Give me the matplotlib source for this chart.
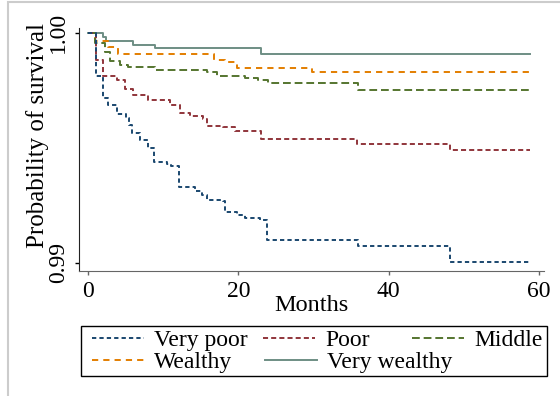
import matplotlib
matplotlib.use("Agg")
import matplotlib.pyplot as plt
from matplotlib.lines import Line2D
from matplotlib.patches import Rectangle

plt.rcParams['font.family'] = ['Liberation Serif', 'DejaVu Serif']

# Kaplan-Meier style step curves (months, survival probability)
vpoor_t = [0, 1.1, 2.0, 2.7, 3.8, 5.1, 5.5, 5.9, 6.9, 8.0, 8.8, 10.5, 11.1, 12.1,
           14.2, 15.1, 15.8, 17.9, 18.2, 19.8, 20.9, 22.9, 23.8, 35.9, 48.1, 58.8]
vpoor_s = [1.0, 0.99813, 0.99716, 0.99687, 0.99647, 0.99629, 0.99600, 0.99564,
           0.99535, 0.99499, 0.99440, 0.99430, 0.99419, 0.99330, 0.99313, 0.99296,
           0.99274, 0.99267, 0.99219, 0.99209, 0.99194, 0.99187, 0.99100, 0.99074,
           0.99004, 0.99004]

poor_t = [0, 1.1, 2.0, 3.8, 4.9, 6.0, 8.0, 10.9, 12.2, 13.6, 15.3, 15.8, 18.0,
          19.5, 23.0, 35.8, 48.1, 58.8]
poor_s = [1.0, 0.99883, 0.99813, 0.99796, 0.99757, 0.99727, 0.99706, 0.99687,
          0.99653, 0.99640, 0.99625, 0.99596, 0.99590, 0.99571, 0.99538, 0.99517,
          0.99491, 0.99491]

middle_t = [0, 0.9, 2.3, 2.9, 4.3, 5.3, 8.9, 15.8, 17.1, 20.9, 22.6, 23.9, 35.9, 58.8]
middle_s = [1.0, 0.99957, 0.99917, 0.99878, 0.99861, 0.99852, 0.99839, 0.99829,
            0.99812, 0.99801, 0.99793, 0.99783, 0.99749, 0.99749]

wealthy_t = [0, 0.9, 2.7, 4.0, 16.7, 18.2, 19.8, 29.8, 58.8]
wealthy_s = [1.0, 0.99965, 0.99939, 0.99909, 0.99883, 0.99872, 0.99848, 0.99830, 0.99830]

vwealthy_t = [0, 2.0, 2.4, 6.0, 8.9, 23.0, 58.8]
vwealthy_s = [1.0, 0.99981, 0.99964, 0.99947, 0.99933, 0.99909, 0.99909]

labels = ['Very poor', 'Poor', 'Middle', 'Wealthy', 'Very wealthy']
colors = ['#1a476f', '#90353b', '#55752f', '#e37e00', '#6e8e84']
styles = [(0, (2.2, 1.6)), (0, (2.6, 1.6)), (0, (4.0, 2.0)), (0, (3.2, 2.6)), '-']

fs = 17

fig = plt.figure(figsize=(5.6, 3.96), dpi=100)
ax = fig.add_axes([79/560, 1 - 271/396, 465/560, 243/396])

series = [(vpoor_t, vpoor_s), (poor_t, poor_s), (middle_t, middle_s),
          (wealthy_t, wealthy_s), (vwealthy_t, vwealthy_s)]
handles = []
# draw very wealthy first so dashed lines stay on top
for i in [4, 3, 2, 1, 0]:
    t, s = series[i]
    ax.plot(t, s, drawstyle='steps-post', color=colors[i], linestyle=styles[i], lw=1.4)
for i in range(5):
    handles.append(Line2D([], [], color=colors[i], linestyle=styles[i], lw=1.4))

ax.set_xlim(-1.2, 60.66)
ax.set_ylim(0.98965, 1.0002)
ax.set_xticks([0, 20, 40, 60])
ax.set_yticks([0.99, 1.00])
ax.set_yticklabels(['0.99', '1.00'], rotation=90, va='center')
ax.tick_params(labelsize=fs, length=3, width=1, pad=4)
ax.spines['top'].set_visible(False)
ax.spines['right'].set_visible(False)
ax.spines['left'].set_color('#222222')
ax.spines['bottom'].set_color('#666666')
ax.tick_params(axis='x', color='#666666')
ax.set_xlabel('Months', fontsize=17.5, labelpad=-5)
ax.set_ylabel('Probability of survival', fontsize=18)
ax.yaxis.set_label_coords(-0.064, 0.556)

# legend: one entry per slot, like the Stata key layout
slots = [(92, 340), (263, 340), (412, 340), (92, 362), (265, 362)]
for h, lab, (px, py) in zip(handles, labels, slots):
    fig.legend(handles=[h], labels=[lab], loc='center left',
               bbox_to_anchor=(px/560, 1 - py/396), frameon=False,
               borderpad=0, borderaxespad=0, fontsize=fs,
               handlelength=2.2, handletextpad=0.42)
fig.patches.append(Rectangle((81/560, 1 - 376/396), 466/560, 50/396, fill=False,
                             edgecolor='black', lw=1, transform=fig.transFigure))
fig.patches.append(Rectangle((8/560, -0.05), 1.0, 1.045, fill=False,
                             edgecolor='#cccccc', lw=1.5, transform=fig.transFigure))

fig.savefig('out.png', dpi=100, facecolor='white')
